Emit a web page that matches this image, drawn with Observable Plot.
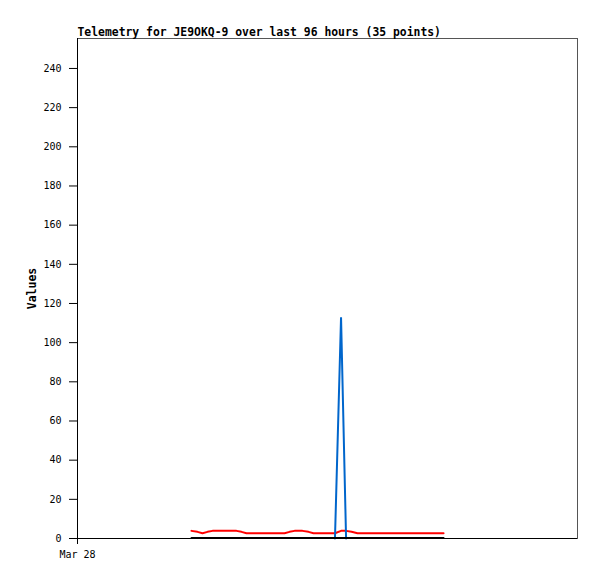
<!DOCTYPE html>
<html>
<head>
<meta charset="utf-8">
<script src="https://cdn.jsdelivr.net/npm/d3@7"></script>
<script src="https://cdn.jsdelivr.net/npm/@observablehq/plot@0.6"></script>
<style>
  html, body { margin: 0; padding: 0; background: #fff; }
</style>
</head>
<body>
<div id="chart"></div>
<script>
const titleText = "Telemetry for JE9OKQ-9 over last 96 hours (35 points)";
const yLabel = "Values";
const xStart = "2024-03-28T00:00Z";
const xEnd = "2024-04-01T00:00Z";
const xTickLabel = "Mar 28";
const yTicks = [0, 20, 40, 60, 80, 100, 120, 140, 160, 180, 200, 220, 240];
const yMax = 255.3;

const times = [
  "2024-03-28T21:53Z", "2024-03-28T23:02Z", "2024-03-29T00:00Z", "2024-03-29T00:58Z",
  "2024-03-29T01:55Z", "2024-03-29T03:28Z", "2024-03-29T04:59Z", "2024-03-29T06:32Z",
  "2024-03-29T07:29Z", "2024-03-29T08:27Z", "2024-03-29T10:22Z", "2024-03-29T12:17Z",
  "2024-03-29T14:13Z", "2024-03-29T15:45Z", "2024-03-29T16:43Z", "2024-03-29T17:40Z",
  "2024-03-29T19:12Z", "2024-03-29T20:21Z", "2024-03-29T21:19Z", "2024-03-29T23:14Z",
  "2024-03-30T01:26Z", "2024-03-30T02:36Z", "2024-03-30T03:34Z", "2024-03-30T04:37Z",
  "2024-03-30T05:46Z", "2024-03-30T07:41Z", "2024-03-30T09:25Z", "2024-03-30T11:08Z",
  "2024-03-30T12:52Z", "2024-03-30T14:36Z", "2024-03-30T16:08Z", "2024-03-30T17:40Z",
  "2024-03-30T19:12Z", "2024-03-30T20:44Z", "2024-03-30T22:17Z"
];
const redValues = [
  3.9, 3.4, 2.7, 3.4, 3.9, 3.9, 3.9, 3.9, 3.4, 2.7,
  2.7, 2.7, 2.7, 2.7, 3.4, 3.9, 3.9, 3.4, 2.7, 2.7,
  2.7, 3.9, 3.9, 3.4, 2.7, 2.7, 2.7, 2.7, 2.7, 2.7,
  2.7, 2.7, 2.7, 2.7, 2.7
];
const blueValues = [
  null, null, null, null, null, null, null, null, null, null,
  null, null, null, null, null, null, null, null, null, null,
  0, 113, 0, null, null, null, null, null, null, null,
  null, null, null, null, null
];
const blackValues = [
  0.2, 0.2, 0.2, 0.2, 0.2, 0.2, 0.2, 0.2, 0.2, 0.2,
  0.2, 0.2, 0.2, 0.2, 0.2, 0.2, 0.2, 0.2, 0.2, 0.2,
  0.2, 0.2, 0.2, 0.2, 0.2, 0.2, 0.2, 0.2, 0.2, 0.2,
  0.2, 0.2, 0.2, 0.2, 0.2
];

const rows = times.map((t, i) => ({
  t: new Date(t),
  red: redValues[i],
  blue: blueValues[i],
  black: blackValues[i]
}));
const blueRows = rows.filter(d => d.blue != null);

const font = "'DejaVu Sans Mono', 'Liberation Mono', monospace";

const chart = Plot.plot({
  width: 597,
  height: 579,
  marginLeft: 77,
  marginRight: 20,
  marginTop: 38,
  marginBottom: 41,
  style: { fontFamily: font, fontSize: "10px", background: "#fff", color: "#000" },
  x: { type: "utc", domain: [new Date(xStart), new Date(xEnd)] },
  y: { domain: [0, yMax] },
  marks: [
    Plot.frame({ stroke: "#555" }),
    Plot.lineY(rows, { x: "t", y: "red", stroke: "#ff0000", strokeWidth: 2 }),
    Plot.lineY(blueRows, { x: "t", y: "blue", stroke: "#0066cc", strokeWidth: 2, strokeLinejoin: "miter" }),
    Plot.lineY(rows, { x: "t", y: "black", stroke: "#000", strokeWidth: 2 }),
    Plot.ruleY([0], { stroke: "#000", strokeWidth: 1 }),
    Plot.ruleX([new Date(xStart)], { stroke: "#000", strokeWidth: 1 }),
    Plot.axisY({ ticks: yTicks, tickSize: 8, tickPadding: 8, label: null, fontSize: 10 }),
    Plot.axisX({ ticks: [new Date(xStart)], tickFormat: () => xTickLabel, tickSize: 6, tickPadding: 6, label: null, fontSize: 10 }),
    Plot.text([titleText], {
      frameAnchor: "top-left", textAnchor: "start", lineAnchor: "bottom",
      dy: -3, fontWeight: "bold", fontSize: 11.4, fill: "#000"
    }),
    Plot.text([yLabel], {
      frameAnchor: "left", textAnchor: "middle", lineAnchor: "middle",
      rotate: -90, dx: -45, fontWeight: "bold", fontSize: 11.5, fill: "#000"
    })
  ]
});
document.getElementById("chart").appendChild(chart);
</script>
</body>
</html>
